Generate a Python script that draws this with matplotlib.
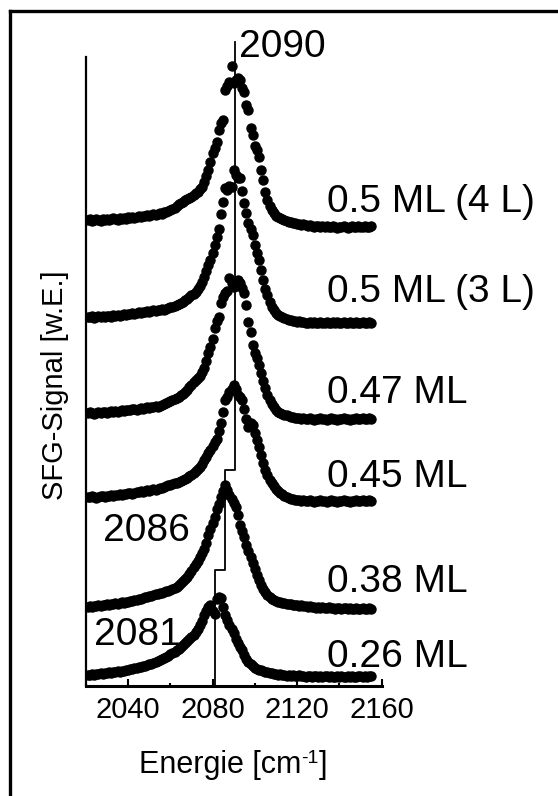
import numpy as np
import matplotlib
matplotlib.use("Agg")
import matplotlib.pyplot as plt
from matplotlib.ticker import MultipleLocator
from matplotlib.lines import Line2D

plt.rcParams['font.family'] = ['Liberation Sans', 'DejaVu Sans']

# energy grid of the measured points [cm^-1]
energy = np.arange(2021, 2156)

# signal above each trace's own baseline (arbitrary units)
sig_4L = [0, 1, -1, 0, 1, 0, -1, 1, 0, 1,
          0, 1, 2, 1, 0, 2, 1, 2, 1, 3,
          2, 3, 2, 3, 4, 3, 4, 4, 5, 4,
          5, 6, 5, 6, 7, 6, 8, 8, 9, 10,
          11, 12, 14, 16, 17, 18, 20, 21, 22, 23,
          25, 27, 28, 31, 33, 38, 44, 50, 58, 67,
          72, 78, 90, 97, 100, 130, 134, 138, 154, 137,
          140, 142, 140, 132, 128, 115, 110, 92, 85, 74,
          70, 63, 50, 40, 28, 20, 14, 10, 7, 4,
          3, 2, 1, 0, -1, -2, -2, -3, -3, -4,
          -4, -5, -4, -5, -6, -5, -6, -7, -6, -6,
          -7, -6, -7, -6, -7, -7, -6, -7, -8, -7,
          -7, -6, -7, -8, -7, -6, -7, -7, -6, -7,
          -7, -6, -7, -7, -6]

sig_3L = [0, 0, 1, -1, 0, 1, 0, 1, 0, 1,
          1, 0, 2, 1, 2, 1, 2, 3, 2, 3,
          3, 4, 3, 4, 5, 4, 5, 5, 6, 5,
          6, 7, 6, 7, 7, 8, 7, 8, 9, 10,
          10, 11, 12, 13, 14, 15, 17, 18, 20, 22,
          23, 25, 28, 31, 35, 40, 46, 52, 57, 64,
          72, 80, 88, 103, 115, 129, 127, 131, 130, 147,
          142, 139, 139, 126, 114, 104, 94, 88, 82, 72,
          64, 57, 47, 37, 28, 22, 15, 10, 7, 4,
          2, 1, 0, -1, -2, -3, -3, -4, -4, -5,
          -4, -5, -5, -6, -6, -5, -6, -5, -6, -6,
          -5, -6, -6, -5, -6, -6, -5, -6, -5, -6,
          -6, -5, -6, -6, -5, -6, -6, -5, -6, -6,
          -5, -6, -6, -5, -6]

sig_047 = [0, 1, 0, -1, 0, 1, 0, 1, 1, 0,
           1, 2, 1, 2, 1, 2, 3, 2, 3, 3,
           3, 4, 4, 3, 4, 5, 4, 5, 6, 5,
           6, 6, 7, 6, 7, 8, 9, 10, 11, 12,
           13, 14, 15, 16, 18, 19, 21, 23, 26, 28,
           31, 33, 35, 37, 41, 45, 52, 60, 66, 74,
           85, 92, 96, 110, 116, 120, 122, 135, 130, 126,
           128, 133, 130, 125, 120, 108, 91, 81, 68, 60,
           55, 48, 40, 32, 25, 18, 13, 9, 6, 3,
           1, 0, -1, -2, -2, -3, -4, -4, -5, -5,
           -5, -6, -5, -6, -6, -5, -6, -7, -6, -6,
           -5, -6, -6, -7, -6, -5, -6, -6, -7, -6,
           -6, -5, -6, -6, -7, -6, -6, -5, -6, -6,
           -5, -6, -6, -5, -6]

sig_045 = [0, 0, 1, 0, -1, 0, 1, 1, 0, 1,
           1, 2, 1, 2, 2, 3, 2, 3, 3, 4,
           4, 3, 4, 5, 5, 6, 5, 6, 7, 6,
           7, 8, 7, 8, 9, 9, 10, 11, 12, 12,
           13, 14, 14, 15, 16, 17, 18, 19, 21, 22,
           24, 26, 28, 30, 33, 37, 40, 44, 47, 51,
           55, 58, 66, 74, 85, 97, 100, 105, 108, 112,
           108, 102, 100, 97, 88, 78, 70, 74, 72, 64,
           57, 50, 42, 34, 27, 22, 17, 14, 11, 8,
           6, 4, 3, 1, 0, -1, -2, -2, -3, -3,
           -3, -4, -3, -4, -4, -3, -4, -5, -4, -4,
           -3, -4, -4, -5, -4, -3, -4, -4, -5, -4,
           -4, -3, -4, -4, -5, -4, -4, -3, -4, -4,
           -3, -4, -4, -3, -4]

sig_038 = [0, 1, 0, 1, 1, 2, 1, 2, 2, 3,
           2, 3, 3, 4, 3, 4, 5, 4, 5, 5,
           6, 6, 7, 7, 8, 8, 9, 10, 10, 11,
           11, 12, 13, 13, 14, 14, 15, 16, 16, 17,
           18, 19, 20, 22, 24, 26, 28, 30, 33, 36,
           40, 43, 46, 50, 54, 58, 64, 72, 78, 84,
           90, 98, 103, 110, 116, 122, 117, 112, 108, 104,
           100, 92, 82, 76, 70, 62, 56, 50, 44, 38,
           32, 27, 22, 18, 15, 12, 10, 8, 7, 6,
           5, 5, 4, 4, 3, 3, 3, 2, 2, 2,
           1, 2, 1, 1, 0, 1, 0, 0, -1, 0,
           -1, 0, -1, -1, 0, -1, -1, -2, -1, -1,
           -2, -1, -1, -2, -1, -2, -2, -1, -2, -2,
           -1, -2, -2, -1, -2]

sig_026 = [0, 0, 1, 0, 1, 1, 2, 1, 2, 2,
           3, 2, 3, 3, 4, 3, 4, 4, 5, 5,
           6, 6, 7, 7, 8, 8, 9, 9, 10, 11,
           11, 12, 13, 14, 15, 16, 17, 18, 19, 21,
           22, 23, 25, 26, 28, 30, 32, 34, 36, 38,
           40, 43, 46, 50, 54, 60, 64, 68, 70, 64,
           61, 76, 78, 77, 68, 60, 55, 50, 46, 42,
           36, 32, 28, 25, 20, 16, 13, 11, 9, 7,
           6, 5, 5, 4, 3, 3, 2, 2, 1, 1,
           0, 1, 0, 0, -1, 0, -1, 0, -1, -1,
           0, -1, -1, -2, -1, -1, -2, -1, -1, -2,
           -1, -2, -1, -1, -2, -1, -2, -2, -1, -2,
           -1, -2, -2, -1, -2, -1, -2, -2, -1, -1,
           -2, -1, -2, -1, -1]

spectra = [sig_4L, sig_3L, sig_047, sig_045, sig_038, sig_026]
offsets = [466, 369, 273, 189, 79, 11]
labels = ["0.5 ML (4 L)", "0.5 ML (3 L)", "0.47 ML", "0.45 ML", "0.38 ML", "0.26 ML"]
label_y = [474, 384, 283, 199, 94, 19]

# peak position guide (staircase)
peak_pos = [2081, 2086, 2090.5]
peak_text = ["2081", "2086", "2090"]
step_y = [0, 116, 216, 644]

fig = plt.figure(figsize=(5.58, 7.96), dpi=100)
ax = fig.add_axes([0.1538, 0.1382, 0.530, 0.7902])

for sig, off in zip(spectra, offsets):
    ax.plot(energy, np.array(sig) + off, 'o', color='black', ms=6.5, mec='black')

for lab, ly in zip(labels, label_y):
    ax.text(2134, ly, lab, fontsize=28, va='baseline', ha='left', clip_on=False)

# staircase line
sx = [peak_pos[0], peak_pos[0], peak_pos[1], peak_pos[1], peak_pos[2], peak_pos[2]]
sy = [step_y[0], step_y[1], step_y[1], step_y[2], step_y[2], step_y[3]]
ax.plot(sx, sy, color='black', lw=1.3, clip_on=False)

ax.text(2092.5, 629, peak_text[2], fontsize=28, va='baseline', ha='left', clip_on=False)
ax.text(2028, 145, peak_text[1], fontsize=28, va='baseline', ha='left')
ax.text(2024, 41, peak_text[0], fontsize=28, va='baseline', ha='left')

ax.set_xlim(2020, 2160)
ax.set_ylim(0, 629)
ax.spines['top'].set_visible(False)
ax.spines['right'].set_visible(False)
ax.spines['left'].set_linewidth(1.6)
ax.spines['bottom'].set_linewidth(2.2)
ax.set_yticks([])
ax.xaxis.set_major_locator(MultipleLocator(40))
ax.xaxis.set_minor_locator(MultipleLocator(20))
ax.set_xticks([2040, 2080, 2120, 2160])
ax.tick_params(axis='x', which='major', direction='in', length=5, width=1.5,
               labelsize=21, pad=7)
ax.tick_params(axis='x', which='minor', direction='in', length=2.5, width=1.5)

# x label with a plain hyphen in the superscript
renderer = fig.canvas.get_renderer()
base_y = 1 - 773 / 796
p1 = fig.text(0, base_y, "Energie [cm", fontsize=22, va='baseline')
p2 = fig.text(0, base_y + 10 / 796, "-1", fontsize=14, va='baseline')
p3 = fig.text(0, base_y, "]", fontsize=22, va='baseline')
w = [p.get_window_extent(renderer).width / 558 for p in (p1, p2, p3)]
x0 = 233 / 558 - sum(w) / 2
p1.set_x(x0)
p2.set_x(x0 + w[0])
p3.set_x(x0 + w[0] + w[1])

fig.text(55 / 558, 1 - 385 / 796, "SFG-Signal [w.E.]", fontsize=21,
         rotation=90, ha='center', va='center')

# outer frame (only top and left edges fall inside the image)
fig.add_artist(Line2D([10 / 558, 10 / 558], [0, 1 - 11 / 796], color='black',
                      lw=2.4, transform=fig.transFigure))
fig.add_artist(Line2D([10 / 558, 1], [1 - 11 / 796, 1 - 11 / 796], color='black',
                      lw=2.4, transform=fig.transFigure))

fig.savefig("out.png", dpi=100)
